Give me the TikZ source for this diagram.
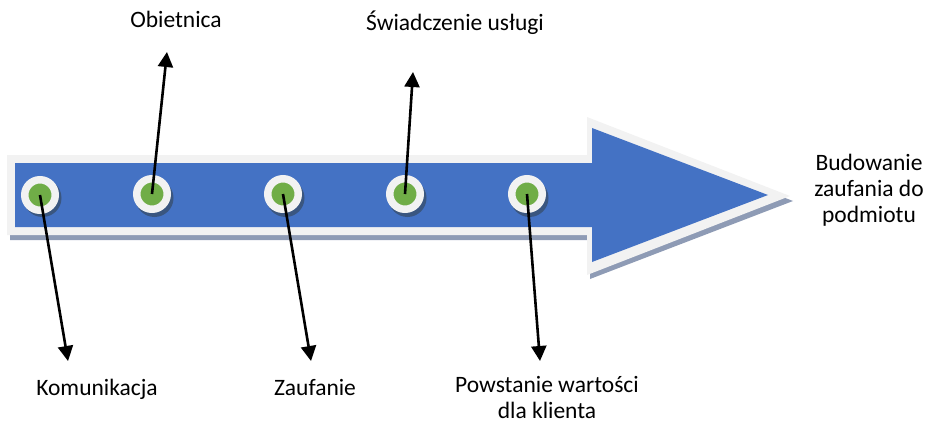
\documentclass[tikz,border=0pt]{standalone}
\usepackage{fontspec}
\setmainfont{Carlito}
\usetikzlibrary{arrows.meta}
\definecolor{arrblue}{HTML}{4472C4}
\definecolor{rimgray}{HTML}{F2F2F2}
\definecolor{shadowgray}{HTML}{8E9BB5}
\definecolor{dotshadow}{HTML}{3A5680}
\definecolor{dotgreen}{HTML}{70AD47}
\begin{document}
\begin{tikzpicture}[x=1pt,y=-1pt,
  dotnode/.style={circle, inner sep=0pt, minimum size=30.5pt, line width=7.5pt, draw=rimgray, fill=dotgreen},
  conn/.style={line width=2.6pt, black, -{Triangle[length=15pt,width=15pt]}},
  lbl/.style={font=\fontsize{23.5}{26}\selectfont, inner sep=0pt, align=center, text=black}
]
\useasboundingbox (0,0) rectangle (926,425);
% arrow shadow
\fill[shadowgray] (10,160) -- (590,160) -- (590,122) -- (793,201) -- (590,279) -- (590,240) -- (10,240) -- cycle;
% arrow rim
\fill[rimgray] (7,155) -- (587,155) -- (587,117) -- (790,196) -- (587,275) -- (587,235) -- (7,235) -- cycle;
% arrow body
\fill[arrblue] (15,163) -- (592,163) -- (592,128) -- (768,195) -- (592,262) -- (592,227) -- (15,227) -- cycle;
% dot shadows
\foreach \x in {40,152,283,405,527} \fill[dotshadow] (\x+2.5,198) circle (19);
% dots
\node[dotnode] (c1) at (40,195) {};
\node[dotnode] (c2) at (152,194) {};
\node[dotnode] (c3) at (283,194) {};
\node[dotnode] (c4) at (405,194) {};
\node[dotnode] (c5) at (527,194) {};
% arrow ends
\coordinate (t1) at (68,361);
\coordinate (t2) at (167,52);
\coordinate (t3) at (311,361);
\coordinate (t4) at (413,72);
\coordinate (t5) at (540,361);
\draw[conn] (c1.center) -- (t1);
\draw[conn] (c2.center) -- (t2);
\draw[conn] (c3.center) -- (t3);
\draw[conn] (c4.center) -- (t4);
\draw[conn] (c5.center) -- (t5);
% labels
\node[lbl, anchor=base] (l1) at (97,395) {Komunikacja};
\node[lbl, anchor=base] (l2) at (176,28) {Obietnica};
\node[lbl, anchor=base] (l3) at (315,395) {Zaufanie};
\node[lbl, anchor=base] (l4) at (455,31) {Świadczenie usługi};
\node[lbl, anchor=base] (l5) at (547,418) {Powstanie wartości\\dla klienta};
\node[lbl, anchor=base] (l6) at (869,222) {Budowanie\\zaufania do\\podmiotu};
\end{tikzpicture}
\end{document}
